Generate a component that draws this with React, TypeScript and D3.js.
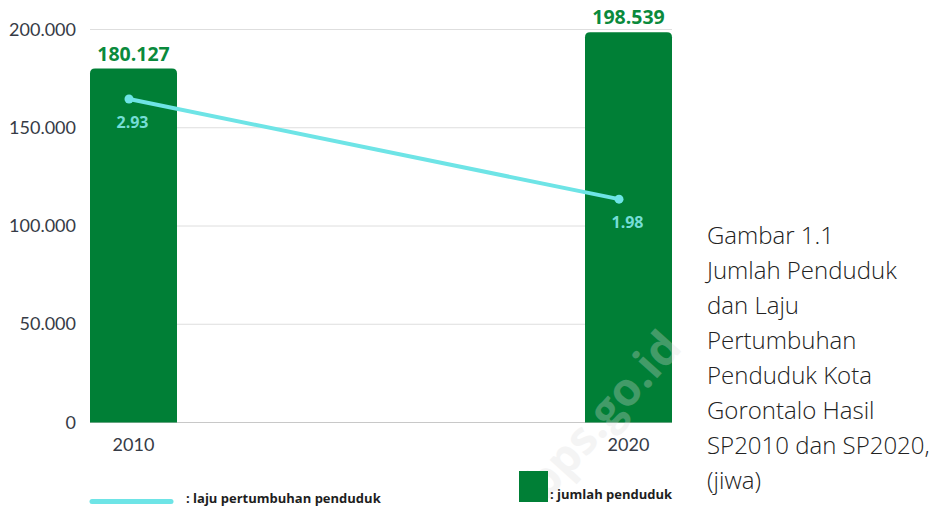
import React from "react";
import * as d3 from "d3";

const years = ["2010", "2020"];
const population = [180127, 198539];
const growthRate = [2.93, 1.98];
const yTicks = [0, 50000, 100000, 150000, 200000];
const captionLines = [
  "Gambar 1.1",
  "Jumlah Penduduk",
  "dan Laju",
  "Pertumbuhan",
  "Penduduk Kota",
  "Gorontalo Hasil",
  "SP2010 dan SP2020,",
  "(jiwa)",
];
const legendLine = ": laju pertumbuhan penduduk";
const legendBar = ": jumlah penduduk";

const W = 937;
const H = 507;
const plotLeft = 90;
const plotRight = 672;
const yBottom = 422.5;
const yTop = 29.5;

const GREEN = "#007f36";
const CYAN = "#6ee4e6";

const fmt = (v: number) =>
  v === 0 ? "0" : d3.format(",")(v).replace(/,/g, ".");

export default function App() {
  const x = d3
    .scaleBand<string>()
    .domain(years)
    .range([plotLeft, plotRight])
    .paddingInner(1 - 87 / 495)
    .paddingOuter(0);
  const y = d3.scaleLinear().domain([0, 200000]).range([yBottom, yTop]);
  const y2 = d3.scaleLinear().domain([-0.14, 3.59]).range([yBottom, yTop]);
  const xLine = d3.scalePoint<string>().domain(years).range([129, 619]);

  const lineGen = d3
    .line<number>()
    .x((_, i) => xLine(years[i])!)
    .y((d) => y2(d));

  const bw = x.bandwidth();
  const r = 5;
  const barPath = (x0: number, y0: number, w: number, h: number) =>
    `M${x0},${y0 + h} L${x0},${y0 + r} Q${x0},${y0} ${x0 + r},${y0} L${x0 + w - r},${y0} Q${x0 + w},${y0} ${x0 + w},${y0 + r} L${x0 + w},${y0 + h} Z`;

  return (
    <svg
      width={W}
      height={H}
      style={{ position: "absolute", left: 0, top: 0, background: "#fff" }}
    >
      {/* gridlines */}
      {yTicks.map((t) => (
        <line
          key={t}
          x1={plotLeft}
          x2={plotRight}
          y1={y(t)}
          y2={y(t)}
          stroke={t === 0 ? "#c8c8c8" : "#dedede"}
          strokeWidth={1}
        />
      ))}
      {yTicks.map((t) => (
        <text
          key={"l" + t}
          x={76}
          y={y(t) + 6}
          textAnchor="end"
          fontFamily="Lato, 'Open Sans', sans-serif"
          fontSize={18}
          fill="#363b46"
        >
          {fmt(t)}
        </text>
      ))}
      {/* bars */}
      {population.map((v, i) => {
        const bx = x(years[i])!;
        const by = y(v);
        return (
          <g key={years[i]}>
            <path d={barPath(bx, by, bw, yBottom - by)} fill={GREEN} />
            <text
              x={bx + bw / 2}
              y={by - 8}
              textAnchor="middle"
              fontFamily="'Open Sans', 'Noto Sans', sans-serif"
              fontWeight={700}
              fontSize={19.5}
              fill="#0a8a3c"
            >
              {fmt(v)}
            </text>
            <text
              x={bx + bw / 2}
              y={451}
              textAnchor="middle"
              fontFamily="Lato, 'Open Sans', sans-serif"
              fontSize={18}
              fill="#363b46"
            >
              {years[i]}
            </text>
          </g>
        );
      })}
      {/* line */}
      <path
        d={lineGen(growthRate)!}
        fill="none"
        stroke={CYAN}
        strokeWidth={4}
      />
      {growthRate.map((v, i) => (
        <g key={"p" + i}>
          <circle cx={xLine(years[i])!} cy={y2(v)} r={4.5} fill={CYAN} />
          <text
            x={x(years[i])! + bw / 2 - 1}
            y={y2(v) + 29}
            textAnchor="middle"
            fontFamily="'Open Sans', 'Noto Sans', sans-serif"
            fontWeight={700}
            fontSize={16}
            fill="#75ddd6"
          >
            {v.toFixed(2)}
          </text>
        </g>
      ))}
      {/* watermark */}
      <text
        transform="translate(615,425) rotate(-48)"
        textAnchor="middle"
        fontFamily="'Open Sans', sans-serif"
        fontWeight={700}
        fontSize={46}
        fill="#dcdcdc"
        opacity={0.3}
      >
        bps.go.id
      </text>
      {/* legend */}
      <line
        x1={92}
        x2={171}
        y1={501.5}
        y2={501.5}
        stroke={CYAN}
        strokeWidth={5}
        strokeLinecap="round"
      />
      <text
        x={186}
        y={503}
        fontFamily="'Open Sans', 'Noto Sans', sans-serif"
        fontWeight={700}
        fontSize={13}
        fill="#1e1e1e"
      >
        {legendLine}
      </text>
      <rect x={519} y={471} width={29} height={31} fill={GREEN} />
      <text
        x={550}
        y={499}
        fontFamily="'Open Sans', 'Noto Sans', sans-serif"
        fontWeight={700}
        fontSize={13}
        fill="#1e1e1e"
      >
        {legendBar}
      </text>
      {/* caption */}
      {captionLines.map((s, i) => (
        <text
          key={s}
          x={707}
          y={243.5 + i * 35}
          fontFamily="'Open Sans', 'Noto Sans', sans-serif"
          fontWeight={300}
          fontSize={24}
          fill="#222"
        >
          {s}
        </text>
      ))}
    </svg>
  );
}
